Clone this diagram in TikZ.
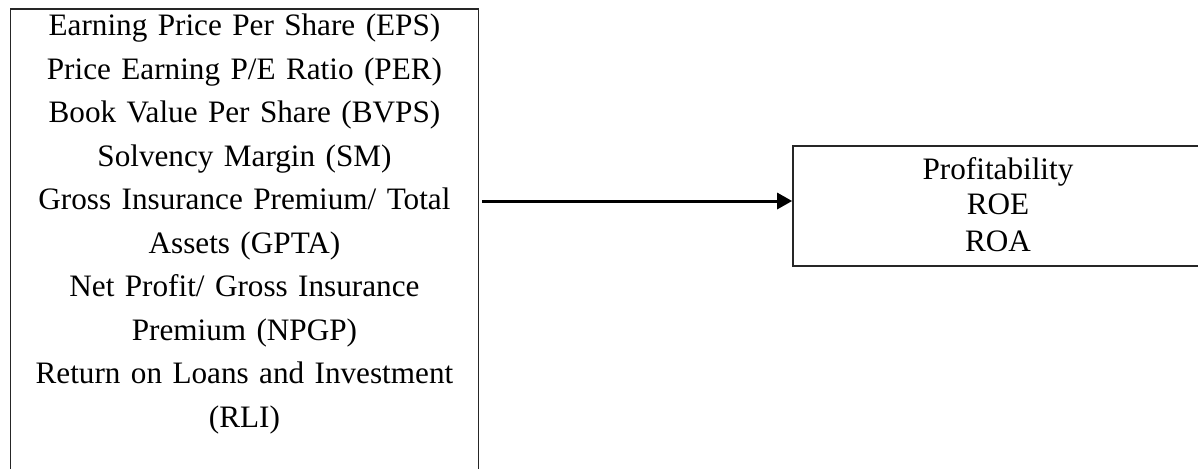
\documentclass[tikz,border=0pt]{standalone}
\usepackage{fontspec}
\setmainfont[WordSpace=0.8]{Liberation Serif}
\usepackage{tikz}
\usetikzlibrary{positioning,arrows.meta}

\begin{document}
\begin{tikzpicture}[x=0.5pt,y=-0.5pt,
box/.style={draw=black!85, line width=0.85pt, inner sep=0pt, align=center, font=\fontsize{15.6}{21.75}\selectfont},
flow/.style={-{Triangle[length=7.5pt,width=8pt]}, line width=1.5pt, shorten <=1.5pt}]
\useasboundingbox (0,0) rectangle (1198,468);
\node[box, anchor=north west, text width=234pt, text height=13.5pt, text depth=260pt] (factors) at (9.6,8) {Earning Price Per Share (EPS)\\
Price Earning P/E Ratio (PER)\\
Book Value Per Share (BVPS)\\
Solvency Margin (SM)\\
Gross Insurance Premium/ Total\\
Assets (GPTA)\\
Net Profit/ Gross Insurance\\
Premium (NPGP)\\
Return on Loans and Investment\\
(RLI)};
\node[box, text width=205pt, minimum height=60pt, font=\fontsize{15.6}{18.5}\selectfont] (profit) at (998,205.7) {\vspace*{-1.2pt}Profitability\\ROE\\ROA\vspace*{1.2pt}};
\coordinate (arrowy) at (0,201);
\draw[flow] (factors.east |- arrowy) -- (profit.west |- arrowy);
\end{tikzpicture}
\end{document}
